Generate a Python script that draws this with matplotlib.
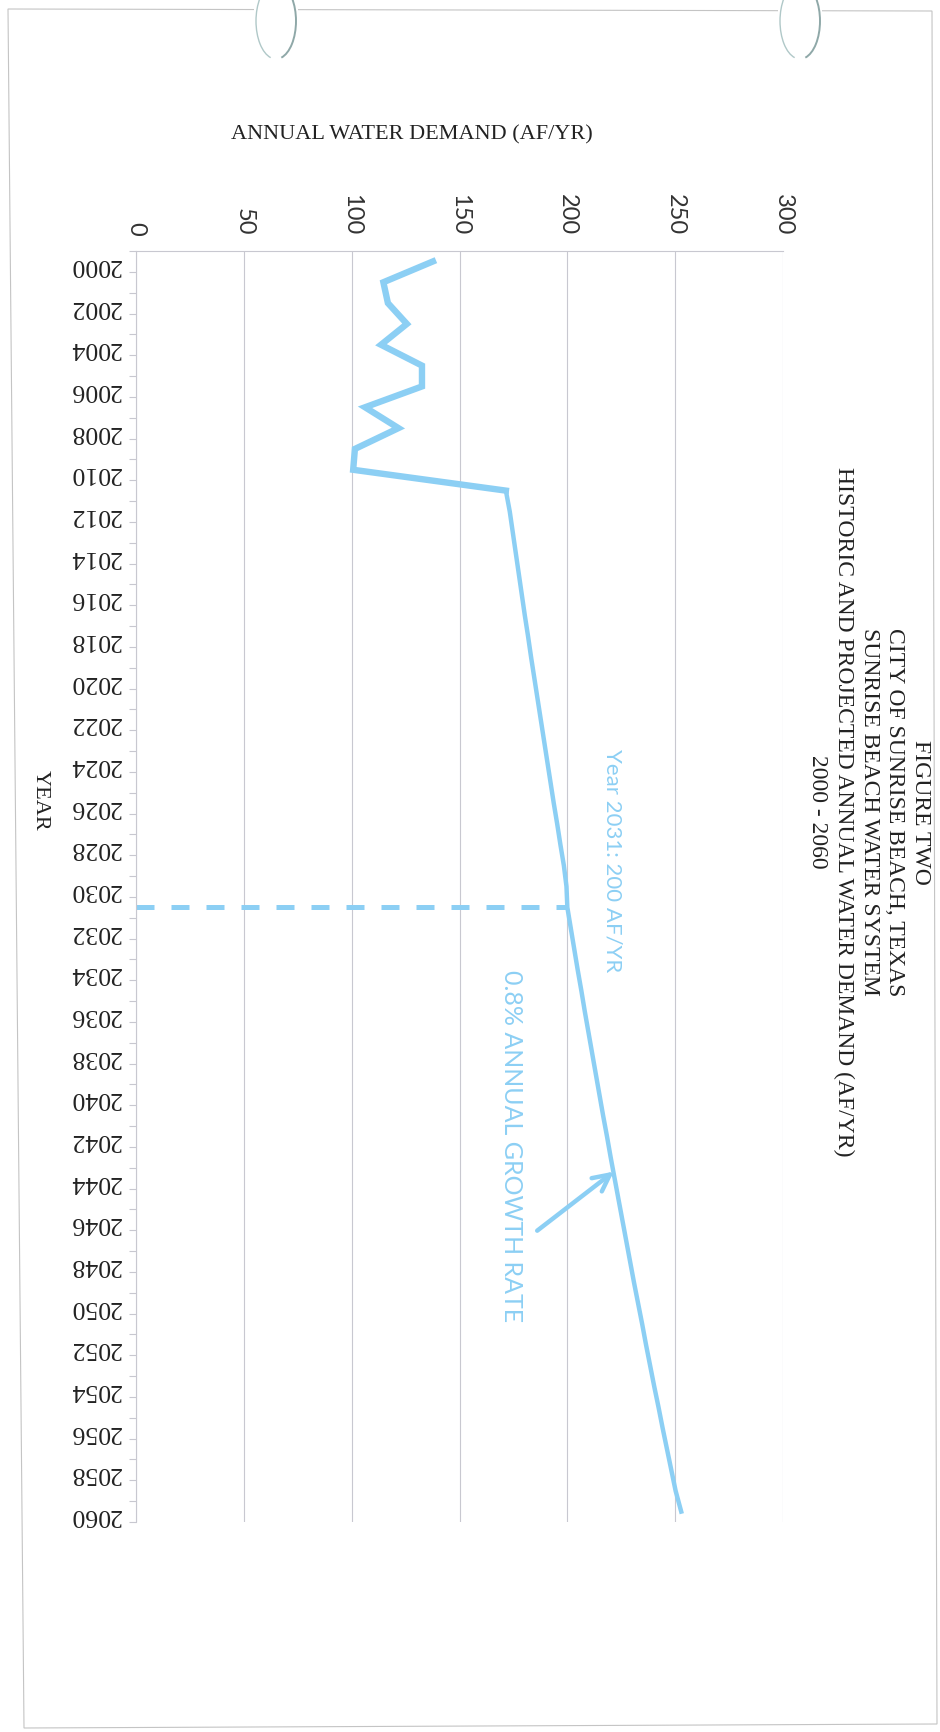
import matplotlib.pyplot as plt
import numpy as np
from matplotlib.patches import Polygon, Arc

# data
years = list(range(2000, 2061))
hist_years = list(range(2000, 2012))
hist_demand = [137.7, 114.7, 116.8, 125.6, 113.6, 132.6, 132.6, 106.2, 121.7, 101.5, 100.7, 171.5]
proj_years = list(range(2011, 2061))
proj_demand = [171.5, 173.3, 174.7, 176.1, 177.5, 178.9, 180.3, 181.8, 183.2, 184.7,
               186.2, 187.7, 189.2, 190.7, 192.2, 193.7, 195.3, 196.8, 198.4, 199.6,
               200.0, 201.6, 203.2, 204.8, 206.5, 208.1, 209.8, 211.5, 213.2, 214.9,
               216.6, 218.4, 220.1, 221.9, 223.7, 225.5, 227.3, 229.1, 230.9, 232.8,
               234.7, 236.5, 238.4, 240.3, 242.3, 244.2, 246.2, 248.2, 250.2, 252.8]
demand_ticks = [0, 50, 100, 150, 200, 250, 300]
year_labels = [str(y) for y in range(2000, 2061, 2)]
marker_year = 2031
marker_demand = 200

title_lines = ['FIGURE TWO', 'CITY OF SUNRISE BEACH, TEXAS', 'SUNRISE BEACH WATER SYSTEM',
               'HISTORIC AND PROJECTED ANNUAL WATER DEMAND (AF/YR)', '2000 - 2060']

W, H = 940, 1733
blue = '#8ccff4'
grid_c = '#c8c8d0'
serif = ['Liberation Serif', 'DejaVu Serif']
sans = ['Lato', 'DejaVu Sans']

fig = plt.figure(figsize=(W / 100, H / 100), dpi=100)
fig.patch.set_facecolor('white')

# page border of the scan, with the binder ring marks at the top
page = Polygon([(8 / W, 1 - 10 / H), (932 / W, 1 - 12 / H), (937 / W, 1 - 1725 / H), (24 / W, 1 - 1729 / H)],
               closed=True, fill=False, ec='#c4c4c4', lw=0.8, transform=fig.transFigure)
fig.add_artist(page)
for cx in [276, 800]:
    fig.add_artist(plt.Rectangle(((cx - 22) / W, 1 - 16 / H), 44 / W, 10 / H, transform=fig.transFigure,
                                 fc='white', ec='none'))
    fig.add_artist(Arc((cx / W, 1 - 22 / H), 40 / W, 76 / H, theta1=105, theta2=255,
                       transform=fig.transFigure, ec='#b0c8c8', lw=1.0))
    fig.add_artist(Arc((cx / W, 1 - 22 / H), 40 / W, 76 / H, theta1=-75, theta2=75,
                       transform=fig.transFigure, ec='#8fa8a8', lw=1.4))

left, right, top, bottom = 136, 783, 252, 1523
ax = fig.add_axes([left / W, 1 - bottom / H, (right - left) / W, (bottom - top) / H])

ax.plot(hist_demand, hist_years, color=blue, lw=4.6, solid_joinstyle='miter')
ax.plot(proj_demand, proj_years, color=blue, lw=3.2)
ax.plot([0, marker_demand], [marker_year, marker_year], color=blue, lw=3.6,
        ls=(0, (3.6, 3.4)), dash_capstyle='butt')

ax.annotate('', xy=(222.6, 2043.6), xytext=(185, 2046.6),
            arrowprops=dict(arrowstyle='->', lw=3.2, color=blue, mutation_scale=30))
ax.text(221, 2028.7, 'Year 2031: 200 AF/YR', rotation=-90, ha='center', va='center',
        color=blue, fontsize=16, family=sans)
ax.text(174, 2042.4, '0.8% ANNUAL GROWTH RATE', rotation=-90, ha='center', va='center',
        color=blue, fontsize=18, family=sans)

ax.set_xlim(0, 300)
ax.set_ylim(2060.5, 1999.5)

ax.xaxis.tick_top()
ax.set_xticks(demand_ticks)
ax.set_xticklabels([str(v) for v in demand_ticks], rotation=-90, fontsize=17, family=sans, color='#333333')
ax.tick_params(axis='x', length=0, pad=12)
ax.grid(axis='x', color=grid_c, lw=0.8)
ax.set_axisbelow(True)

ax.set_yticks(np.arange(2000, 2061, 2))
ax.set_yticklabels(year_labels, rotation=180, fontsize=18.5, family=serif, color='#222222')
ax.set_yticks(np.arange(1999.5, 2061, 1), minor=True)
ax.tick_params(axis='y', which='major', length=0, pad=11)
ax.tick_params(axis='y', which='minor', length=5, color=grid_c, width=0.8)

for s in ['right', 'bottom']:
    ax.spines[s].set_visible(False)
for s in ['top', 'left']:
    ax.spines[s].set_color(grid_c)
    ax.spines[s].set_linewidth(0.8)

fig.text(412 / W, 1 - 135 / H, 'ANNUAL WATER DEMAND (AF/YR)', ha='center', va='center',
         fontsize=16, family=serif, color='#222222')
fig.text(40 / W, 1 - 800 / H, 'YEAR', rotation=-90, ha='center', va='center',
         fontsize=16, family=serif, color='#222222')
fig.text(869 / W, 1 - 812 / H, '\n'.join(title_lines), rotation=-90, ha='center', va='center',
         multialignment='center', linespacing=1.3, fontsize=17, family=serif, color='#222222')

fig.savefig('out.png', dpi=100)
